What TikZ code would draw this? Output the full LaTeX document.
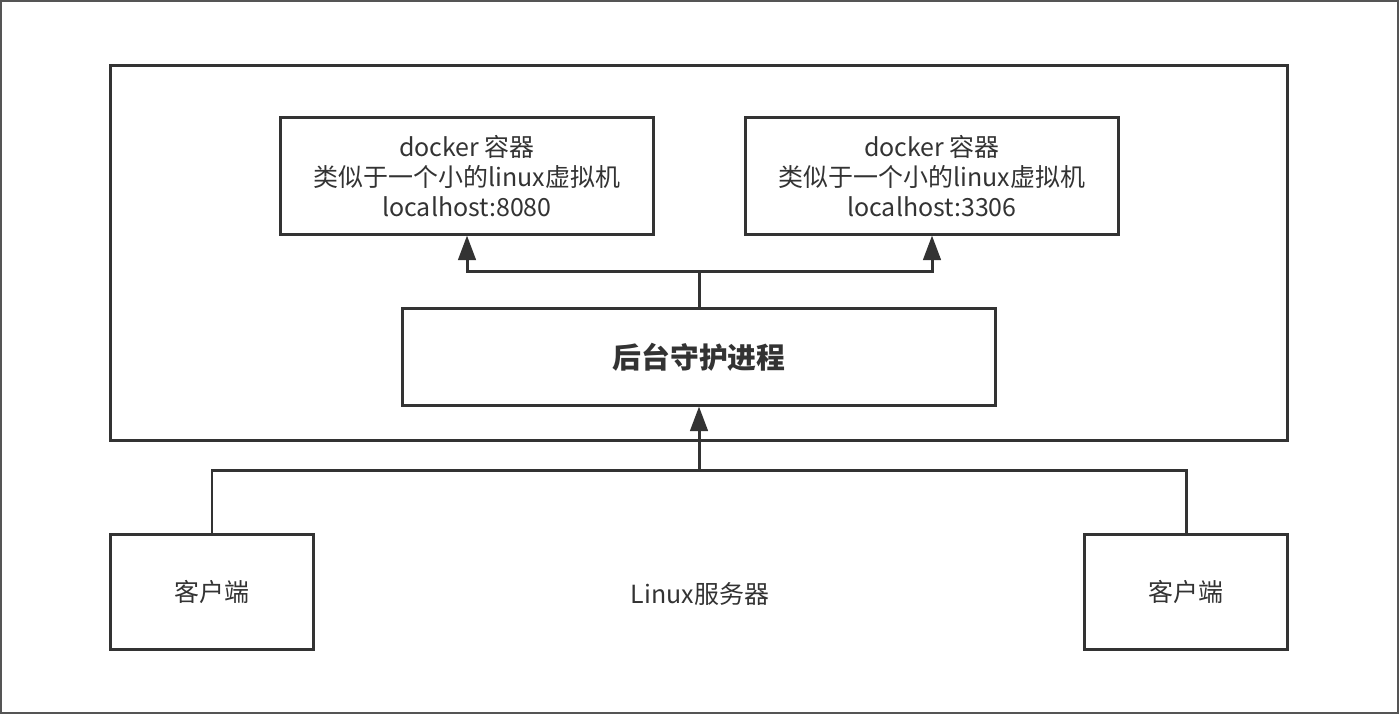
\documentclass[tikz,border=0pt]{standalone}
\usepackage{fontspec}
\setmainfont{Noto Sans CJK SC}
\usepackage{tikz}
\usetikzlibrary{arrows.meta}
\definecolor{inkgray}{HTML}{333333}
\definecolor{framegray}{HTML}{555555}

\begin{document}
\begin{tikzpicture}[
    x=0.01cm, y=-0.01cm,
    box/.style={
        draw=inkgray, line width=0.85pt, inner sep=0pt,
        text=inkgray, align=center,
        font=\fontsize{7.1pt}{8.6pt}\selectfont
    },
    link/.style={draw=inkgray, line width=0.85pt},
    link arrow/.style={
        link,
        -{Triangle[length=7pt,width=5pt]}
    }
  ]

  \useasboundingbox (0,0) rectangle (1400,714);
  \draw[framegray, line width=0.6pt] (1,1) rectangle (1398,713);

  % host box
  \node[box, minimum width=11.76cm, minimum height=3.74cm] (host) at (699,253) {};

  \node[box, minimum width=3.72cm, minimum height=1.16cm] (docker_a) at (467,176)
    {docker 容器\\类似于一个小的linux虚拟机\\localhost:8080};
  \node[box, minimum width=3.72cm, minimum height=1.16cm] (docker_b) at (932,176)
    {docker 容器\\类似于一个小的linux虚拟机\\localhost:3306};

  \node[box, minimum width=5.92cm, minimum height=0.96cm,
        font=\fontsize{8.2pt}{9pt}\selectfont\bfseries] (daemon) at (699,357) {后台守护进程};

  \node[box, minimum width=2.03cm, minimum height=1.14cm] (client_a) at (212,592) {客户端};
  \node[box, minimum width=2.02cm, minimum height=1.14cm] (client_b) at (1186,592) {客户端};

  \node[text=inkgray, font=\fontsize{7.1pt}{8.6pt}\selectfont] (server) at (700,594) {Linux服务器};

  \coordinate (split) at (699,271);
  \coordinate (join) at (699,470);

  \draw[link] (daemon.north) -- (split);
  \draw[link arrow] (split) -| (docker_a.south);
  \draw[link arrow] (split) -| (docker_b.south);

  \draw[link] (client_a.north) |- (join);
  \draw[link] (client_b.north) |- (join);
  \draw[link arrow] (join) -- (daemon.south);

\end{tikzpicture}
\end{document}
